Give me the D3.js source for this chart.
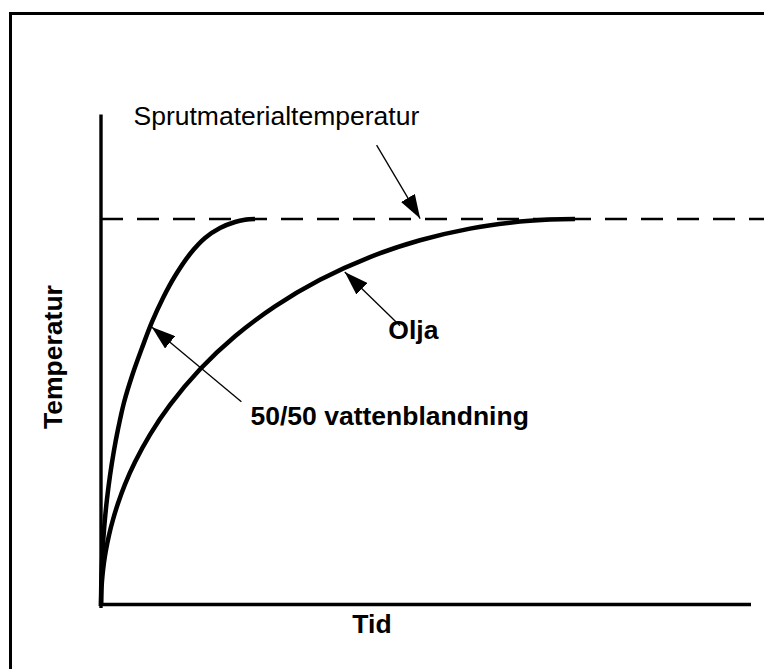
<!DOCTYPE html>
<html>
<head>
<meta charset="utf-8">
<script src="https://cdn.jsdelivr.net/npm/d3@7"></script>
<style>
  body { margin: 0; background: #fff; }
  svg text { font-family: "Liberation Sans", Arial, Helvetica, sans-serif; fill: #000; }
</style>
</head>
<body>
<div id="chart"></div>
<script>
// relative time (0-100) and relative temperature (100 = spray material temperature)
const waterTime = [0, 0.046, 0.123, 0.23, 0.385, 0.615, 0.923, 1.385, 2.0, 2.615, 3.538, 4.769, 6.308, 7.846, 9.538, 11.385, 13.692, 16.0, 18.31, 20.62, 22.15, 23.69];
const waterTemp = [0, 6.25, 10.18, 13.93, 17.93, 22.64, 27.65, 33.7, 40.21, 45.66, 52.58, 59.43, 66.67, 73.39, 79.59, 85.27, 90.96, 95.09, 97.67, 99.22, 99.79, 100];

const oilTime = [0, 0.077, 0.23, 0.46, 0.77, 1.23, 1.85, 2.62, 3.69, 5.23, 7.54, 10.62, 15.23, 20.62, 26.77, 33.69, 41.38, 49.08, 56.77, 64.46, 69.08, 72.92];
const oilTemp = [0, 4.6, 7.93, 11.24, 14.5, 18.3, 22.35, 26.54, 31.42, 37.18, 44.29, 51.96, 61.16, 69.69, 77.42, 84.29, 90.16, 94.5, 97.52, 99.33, 99.87, 100];

const materialTemp = 100;

// annotation labels and where their arrows point (data units)
const labels = ["Sprutmaterialtemperatur", "50/50 vattenblandning", "Olja"];
const arrowFrom = [[42.4, 119.1], [21.6, 52.8], [46, 72.4]];
const arrowTo = [[49.1, 100.1], [7.8, 72.1], [37.5, 86.3]];
const labelAt = [[5.0, 124.3], [23.0, 46.8], [44.2, 69.0]];

const xTitle = "Tid";
const yTitle = "Temperatur";

const W = 764, H = 669;
const svg = d3.select("#chart").append("svg")
    .attr("width", W)
    .attr("height", H);

// frame (runs off the right and bottom edges)
svg.append("rect")
    .attr("x", 10.5).attr("y", 13.5)
    .attr("width", 800).attr("height", 700)
    .attr("fill", "none")
    .attr("stroke", "#000")
    .attr("stroke-width", 3);

const x = d3.scaleLinear().domain([0, 100]).range([101, 751]);
const y = d3.scaleLinear().domain([0, 100]).range([606, 219]);

const defs = svg.append("defs");
defs.append("marker")
    .attr("id", "head")
    .attr("viewBox", "0 0 24 16")
    .attr("refX", 24).attr("refY", 8)
    .attr("markerWidth", 24).attr("markerHeight", 16)
    .attr("markerUnits", "userSpaceOnUse")
    .attr("orient", "auto")
    .append("path")
    .attr("d", "M0,0 L24,8 L0,16 Z")
    .attr("fill", "#000");

// axes: plain lines, no ticks
svg.append("line")
    .attr("x1", x(0)).attr("x2", x(0))
    .attr("y1", y(0) + 2).attr("y2", y(127))
    .attr("stroke", "#000").attr("stroke-width", 3.4);

svg.append("line")
    .attr("x1", x(0) - 1).attr("x2", x(100))
    .attr("y1", y(0) - 1.5).attr("y2", y(0) - 1.5)
    .attr("stroke", "#000").attr("stroke-width", 3.4);

// spray material temperature
svg.append("line")
    .attr("x1", x(0)).attr("x2", W)
    .attr("y1", y(materialTemp)).attr("y2", y(materialTemp))
    .attr("stroke", "#000").attr("stroke-width", 2.6)
    .attr("stroke-dasharray", "22,14");

const line = d3.line()
    .x(d => x(d[0]))
    .y(d => y(d[1]))
    .curve(d3.curveCatmullRom.alpha(0.5));

const series = [d3.zip(waterTime, waterTemp), d3.zip(oilTime, oilTemp)];
svg.selectAll(".curve")
    .data(series)
    .join("path")
    .attr("class", "curve")
    .attr("d", line)
    .attr("fill", "none")
    .attr("stroke", "#000")
    .attr("stroke-width", 4.5);

// arrows
svg.selectAll(".arrow")
    .data(arrowFrom)
    .join("line")
    .attr("class", "arrow")
    .attr("x1", d => x(d[0])).attr("y1", d => y(d[1]))
    .attr("x2", (d, i) => x(arrowTo[i][0])).attr("y2", (d, i) => y(arrowTo[i][1]))
    .attr("stroke", "#000")
    .attr("stroke-width", 1.3)
    .attr("marker-end", "url(#head)");

// labels
svg.selectAll(".label")
    .data(labels)
    .join("text")
    .attr("class", "label")
    .attr("x", (d, i) => x(labelAt[i][0]))
    .attr("y", (d, i) => y(labelAt[i][1]))
    .attr("font-size", 26.5)
    .attr("font-weight", (d, i) => i === 0 ? "normal" : "bold")
    .text(d => d);

svg.append("text")
    .attr("x", 372).attr("y", y(0) + 27)
    .attr("text-anchor", "middle")
    .attr("font-size", 26.5)
    .attr("font-weight", "bold")
    .text(xTitle);

svg.append("text")
    .attr("transform", `translate(62,357) rotate(-90)`)
    .attr("text-anchor", "middle")
    .attr("font-size", 26.5)
    .attr("font-weight", "bold")
    .text(yTitle);
</script>
</body>
</html>
